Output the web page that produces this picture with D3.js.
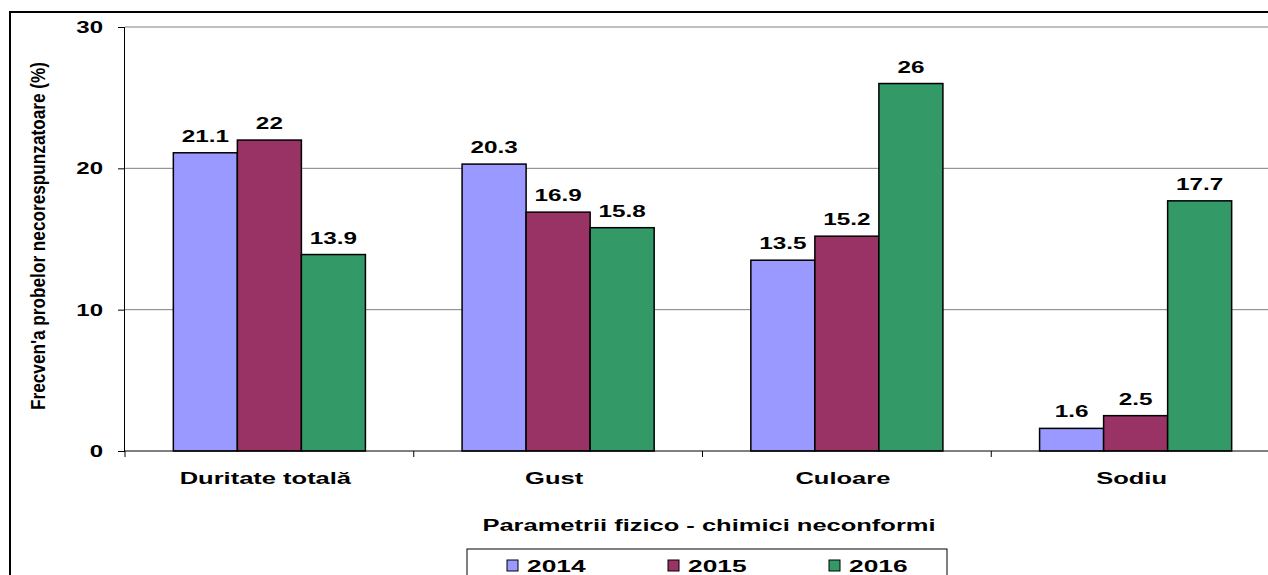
<!DOCTYPE html>
<html><head><meta charset="utf-8">
<script src="https://cdn.jsdelivr.net/npm/d3@7"></script>
<style>body{margin:0;background:#fff}svg{display:block}</style>
</head><body>
<script>
const categories = ["Duritate totală", "Gust", "Culoare", "Sodiu"];
const years = ["2014", "2015", "2016"];
const values2014 = [21.1, 20.3, 13.5, 1.6];
const values2015 = [22, 16.9, 15.2, 2.5];
const values2016 = [13.9, 15.8, 26, 17.7];
const yTicks = [0, 10, 20, 30];
const colors = ["#9999FF", "#993366", "#339966"];
const series = [values2014, values2015, values2016];

const W = 1268, H = 575;
const svg = d3.select("body").append("svg").attr("width", W).attr("height", H);
const font = "Arial, 'Liberation Sans', sans-serif";

function stext(parent, x, y, str, fs, sx, anchor) {
  return parent.append("text")
    .attr("transform", `translate(${x},${y}) scale(${sx},1)`)
    .attr("text-anchor", anchor || "middle")
    .attr("font-family", font).attr("font-weight", "bold")
    .attr("font-size", fs).attr("fill", "#000").text(str);
}

// outer frame
svg.append("rect").attr("x", 10).attr("y", 12).attr("width", W + 20).attr("height", H + 20)
  .attr("fill", "none").attr("stroke", "#000").attr("stroke-width", 2);

const x0 = d3.scaleBand().domain(categories).range([125, 1280]).paddingInner(0).paddingOuter(0);
const x1 = d3.scaleBand().domain(years).range([0, x0.bandwidth()]).paddingOuter(0.755).paddingInner(0);
const y = d3.scaleLinear().domain([0, 30]).range([451, 27]);

// gridlines
svg.append("g").selectAll("line").data(yTicks.filter(d => d > 0)).join("line")
  .attr("x1", 125).attr("x2", W).attr("y1", d => y(d)).attr("y2", d => y(d))
  .attr("stroke", "#808080").attr("stroke-width", 1);

// bars
const g = svg.append("g");
categories.forEach((c, i) => {
  years.forEach((yr, j) => {
    const v = series[j][i];
    g.append("rect")
      .attr("x", x0(c) + x1(yr)).attr("y", y(v))
      .attr("width", x1.bandwidth()).attr("height", y(0) - y(v))
      .attr("fill", colors[j]).attr("stroke", "#000").attr("stroke-width", 1.5);
    stext(g, x0(c) + x1(yr) + x1.bandwidth() / 2, y(v) - 11, String(v), 17, 1.43);
  });
});

// y axis
const yAxis = svg.append("g").attr("transform", "translate(125,0)")
  .call(d3.axisLeft(y).tickValues(yTicks).tickSize(7).tickFormat(() => ""));
yAxis.select(".domain").attr("stroke", "#000").attr("d", `M-0.5,${y(30)}V${y(0)}`);
yAxis.selectAll(".tick line").attr("stroke", "#000");
const yl = svg.append("g");
yTicks.forEach(t => stext(yl, 103, y(t) + 6, d3.format("d")(t), 16, 1.5, "end"));

// x axis
const xAxisY = y(0);
svg.append("line").attr("x1", 125).attr("x2", W).attr("y1", xAxisY).attr("y2", xAxisY)
  .attr("stroke", "#000").attr("stroke-width", 1);
svg.append("g").selectAll("line").data(d3.range(categories.length + 1)).join("line")
  .attr("x1", i => 125 + i * x0.bandwidth()).attr("x2", i => 125 + i * x0.bandwidth())
  .attr("y1", xAxisY).attr("y2", xAxisY + 6).attr("stroke", "#000");
const xl = svg.append("g");
categories.forEach(c => stext(xl, x0(c) + x0.bandwidth() / 2 - 4, 484, c, 17, 1.5));

// axis titles
stext(svg, 709, 531, "Parametrii fizico - chimici neconformi", 17, 1.5);
svg.append("text").attr("transform", "translate(45,236) rotate(-90) scale(0.86,1)").attr("text-anchor", "middle")
  .attr("font-family", font).attr("font-weight", "bold")
  .attr("font-size", 20).text("Frecven'a probelor necorespunzatoare (%)");

// legend
svg.append("rect").attr("x", 467).attr("y", 549).attr("width", 480).attr("height", 40)
  .attr("fill", "#fff").attr("stroke", "#000").attr("stroke-width", 1);
const legX = [507, 668, 829];
years.forEach((yr, j) => {
  svg.append("rect").attr("x", legX[j]).attr("y", 560).attr("width", 11).attr("height", 11)
    .attr("fill", colors[j]).attr("stroke", "#000").attr("stroke-width", 1);
  stext(svg, legX[j] + 20, 572, yr, 17, 1.55, "start");
});
</script>
</body></html>
